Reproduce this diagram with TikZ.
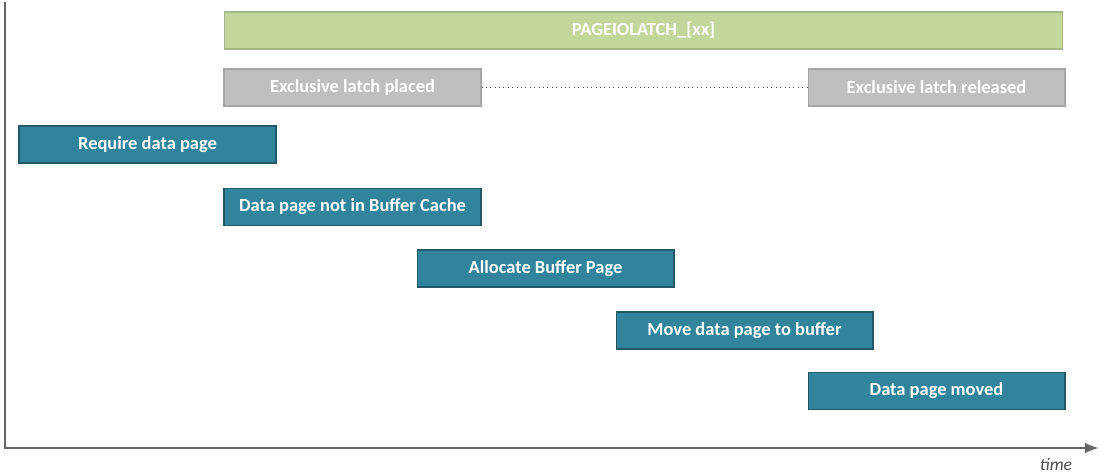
\documentclass[tikz,border=0pt]{standalone}
\usepackage{fontspec}
\setmainfont{Carlito}
\usepackage{xcolor}
\usetikzlibrary{arrows.meta}

\definecolor{tealfill}{HTML}{31849B}
\definecolor{tealline}{HTML}{215968}
\definecolor{greenfill}{HTML}{C3D69B}
\definecolor{greenline}{HTML}{A5B88A}
\definecolor{greyfill}{HTML}{BFBFBF}
\definecolor{greyline}{HTML}{A6A6A6}
\definecolor{axisgrey}{HTML}{666666}

\begin{document}
\begin{tikzpicture}[x=0.02cm, y=-0.02cm,
  bar/.style={draw, line width=0.6pt, minimum width=5.14cm, minimum height=0.74cm, inner sep=0pt, text=white, font=\fontsize{10.5}{12}\selectfont\bfseries},
  stepbar/.style={bar, fill=tealfill, draw=tealline},
  latchbar/.style={bar, fill=greyfill, draw=greyline},
  waitbar/.style={bar, fill=greenfill, draw=greenline, minimum width=16.78cm}]
\useasboundingbox (0,0) rectangle (1100,473);
\node[waitbar] (W) at (643.5,30.5) {PAGEIOLATCH\_[xx]};
\node[latchbar] (LP) at (352.5,87.5) {Exclusive latch placed};
\node[latchbar] (LR) at (936.5,87.5) {Exclusive latch released};
\node[stepbar] (S1) at (147.5,144.5) {Require data page};
\node[stepbar] (S2) at (352.5,207) {Data page not in Buffer Cache};
\node[stepbar] (S3) at (545.5,268.5) {Allocate Buffer Page};
\node[stepbar] (S4) at (744.5,330.5) {Move data page to buffer};
\node[stepbar] (S5) at (936.5,391) {Data page moved};
\draw[dotted, line width=0.5pt, black!70] (LP) -- (LR);
% axes
\coordinate (top) at (5,2);
\coordinate (origin) at (5,448);
\coordinate (end) at (1099,448);
\draw[axisgrey, line width=1.1pt, -{Latex[length=8pt, width=6pt]}] (top) -- (origin) -- (end);
\node[font=\fontsize{10}{12}\selectfont\itshape, text=black!70] (T) at (1056,464) {time};
\end{tikzpicture}
\end{document}
